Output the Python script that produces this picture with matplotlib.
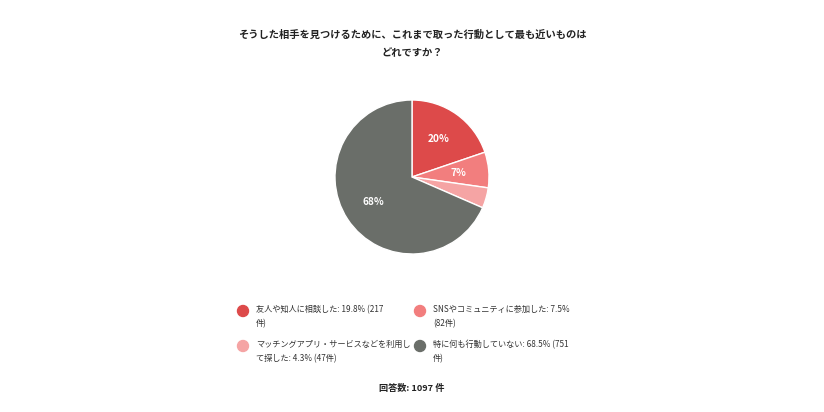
import matplotlib
matplotlib.use("Agg")
import matplotlib.pyplot as plt
from matplotlib.patches import Ellipse

plt.rcParams['font.family'] = ['Noto Sans CJK JP', 'DejaVu Sans']

# survey data
title = "そうした相手を見つけるために、これまで取った行動として最も近いものは\nどれですか？"
labels = ["友人や知人に相談した", "SNSやコミュニティに参加した",
          "マッチングアプリ・サービスなどを利用して探した", "特に何も行動していない"]
counts = [217, 82, 47, 751]
shares = [19.8, 7.5, 4.3, 68.5]
legend_text = ["友人や知人に相談した: 19.8% (217\n件)",
               "SNSやコミュニティに参加した: 7.5%\n(82件)",
               "マッチングアプリ・サービスなどを利用し\nて探した: 4.3% (47件)",
               "特に何も行動していない: 68.5% (751\n件)"]
colors = ["#DD4A4A", "#F27E7E", "#F5A4A4", "#6A6E69"]
total = 1097

W, H = 824, 412
fig = plt.figure(figsize=(W / 100, H / 100), dpi=100)
fig.patch.set_facecolor("white")

fig.text(0.5, 1 - 44 / H, title, ha="center", va="center", fontsize=7.4,
         fontweight="bold", linespacing=1.95, color="#222222")

# pie: center (412,177), radius 77 px
cx, cy, r = 412, 177, 77
ax = fig.add_axes([(cx - r) / W, (H - cy - r) / H, 2 * r / W, 2 * r / H])


def pct(p):
    return f"{p:.0f}%" if p >= 5 else ""


wedges, _, autotexts = ax.pie(counts, colors=colors, startangle=90, counterclock=False,
                              autopct=pct, pctdistance=0.6,
                              wedgeprops=dict(edgecolor="white", linewidth=1))
for t in autotexts:
    t.set_color("white")
    t.set_fontsize(7.3)
    t.set_fontweight("bold")
ax.set_xlim(-1, 1)
ax.set_ylim(-1, 1)
ax.set_aspect("equal")
ax.axis("off")

# legend, two columns
pos = [(243, 311), (420, 311), (243, 346), (420, 346)]
for (x, y), c, txt in zip(pos, colors, legend_text):
    fig.add_artist(Ellipse((x / W, 1 - y / H), 11 / W, 11 / H, transform=fig.transFigure,
                           color=c))
    fig.text((x + 13) / W, 1 - (y - 6) / H, txt, ha="left", va="top", fontsize=5.9,
             linespacing=1.75, color="#333333")

fig.text(0.5, 1 - 388 / H, f"回答数: {total} 件", ha="center", va="center", fontsize=6.6,
         fontweight="bold", color="#222222")

fig.savefig("out.png", dpi=100)
